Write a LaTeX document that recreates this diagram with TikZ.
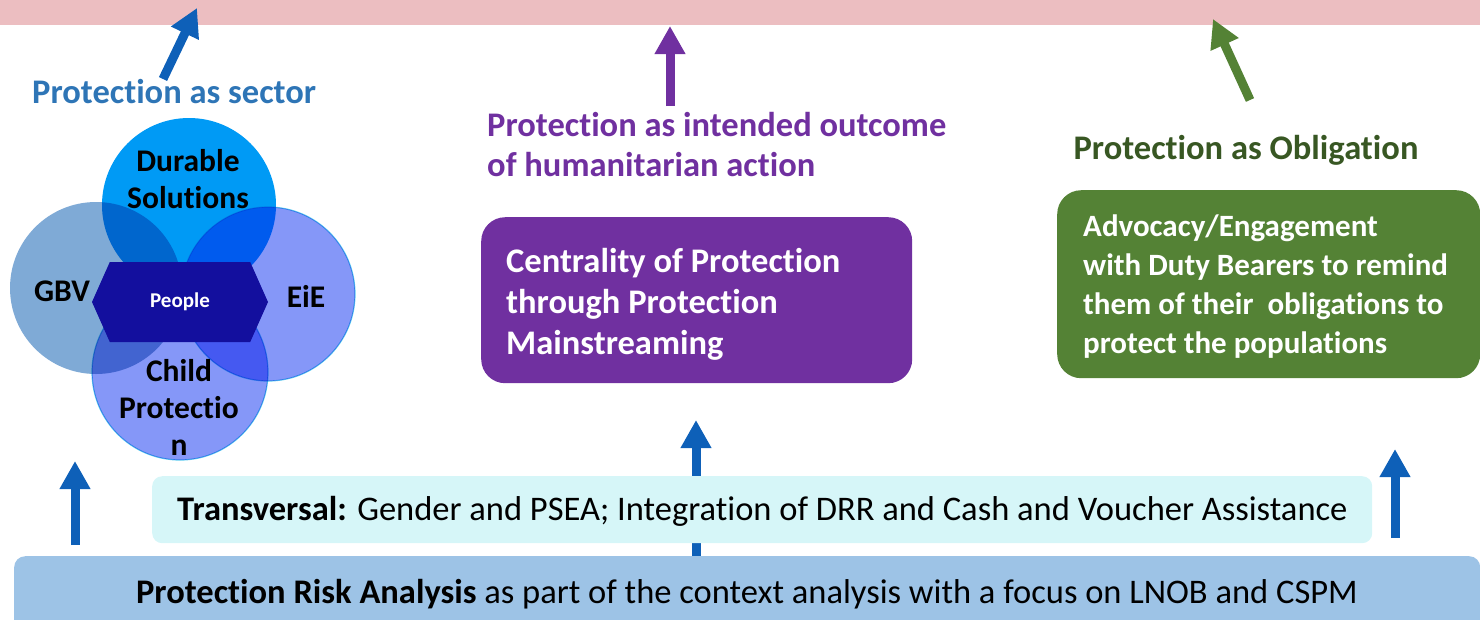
\documentclass[tikz,border=0pt]{standalone}
\usepackage{fontspec}
\setmainfont{Carlito}[Ligatures=NoCommon]
\usetikzlibrary{arrows.meta,shapes.symbols}

\definecolor{bandpink}{HTML}{ECBEC1}
\definecolor{arrowblue}{HTML}{0E60B8}
\definecolor{sectorblue}{HTML}{2E75B6}
\definecolor{mainpurple}{HTML}{7030A0}
\definecolor{arrowgreen}{HTML}{548235}
\definecolor{labelgreen}{HTML}{385723}
\definecolor{boxgreen}{HTML}{548235}
\definecolor{transcyan}{HTML}{D6F6F8}
\definecolor{riskblue}{HTML}{9DC3E6}
\definecolor{durablefill}{HTML}{009AF5}
\definecolor{gbvfill}{HTML}{7FAAD6}
\definecolor{eiefill}{HTML}{8597F8}
\definecolor{childfill}{HTML}{8597F8}
\definecolor{peoplefill}{HTML}{130F9E}
\definecolor{ringedge}{HTML}{5CCBEF}

\tikzset{
  upArrow/.style={line width=9pt, -{Triangle[width=29pt,length=28pt]}},
  ring/.style={circle, minimum size=#1, inner sep=0pt, blend mode=multiply},
  ringLabel/.style={font=\fontsize{31.5}{37}\selectfont\bfseries, text=black,
    align=center, inner sep=0pt},
  headLabel/.style={font=\fontsize{34.5}{40}\selectfont\bfseries, inner sep=0pt},
  boxText/.style={font=\fontsize{34.5}{41}\selectfont\bfseries, text=white,
    align=left, inner sep=0pt},
  panel/.style={inner sep=0pt, draw=none},
}

\begin{document}
\begin{tikzpicture}[x=1pt,y=-1pt]
\useasboundingbox (0,0) rectangle (1480,619);

% title band along the top edge
\node[panel, fill=bandpink, minimum width=1480pt, minimum height=25pt,
  anchor=north west] (band) at (0,0) {};

% lower layers
\node[panel, fill=riskblue, rounded corners=11pt, minimum width=1466pt,
  minimum height=80pt, anchor=north west] (risk) at (14,556) {};

% arrow from the analysis layer to the mainstreaming box (partly hidden)
\coordinate (midTail) at (696,556);
\coordinate (midTip) at (696,420);
\draw[upArrow, arrowblue] (midTail) -- (midTip);

\node[panel, fill=transcyan, rounded corners=10pt, minimum width=1220pt,
  minimum height=67pt, anchor=north west] (trans) at (152,476) {};
\node[font=\fontsize{34.5}{40}\selectfont, inner sep=0pt, anchor=west]
  (transText) at (177,511) {\textbf{Transversal:} Gender and PSEA; Integration of DRR and Cash and Voucher Assistance};
\node[font=\fontsize{34.5}{40}\selectfont, inner sep=0pt]
  (riskText) at (747,594) {\textbf{Protection Risk Analysis} as part of the context analysis with a focus on LNOB and CSPM};

% side arrows rising from the analysis layer
\coordinate (leftTail) at (75,545);
\coordinate (leftTip) at (75,461);
\draw[upArrow, arrowblue] (leftTail) -- (leftTip);
\coordinate (rightTail) at (1395,538);
\coordinate (rightTip) at (1395,449);
\draw[upArrow, arrowblue] (rightTail) -- (rightTip);

% sector circles
\node[ring=172pt, fill=gbvfill] (gbv) at (96,288) {};
\node[ring=174pt, fill=durablefill] (durable) at (189,205) {};
\node[ring=174pt, fill=eiefill, draw=ringedge, line width=1.2pt] (eie) at (268,294) {};
\node[ring=176pt, fill=childfill, draw=ringedge, line width=1.2pt] (child) at (180,372) {};

\node[panel, fill=peoplefill, shape=signal, signal to=east and west,
  signal pointer angle=132, minimum width=176pt, minimum height=80pt,
  font=\fontsize{21}{24}\selectfont\bfseries, text=white] (people) at (180,302) {People};

\node[ringLabel] (durableText) at (188,179) {Durable\\Solutions};
\node[ringLabel] (gbvText) at (62,291) {GBV};
\node[ringLabel] (eieText) at (306,296) {EiE};
\node[ringLabel] (childText) at (179,407) {Child\\Protectio\\n};

% headings with their arrows into the band
\node[headLabel, text=sectorblue, anchor=west] (sector) at (32,92) {Protection as sector};
\coordinate (sectorTail) at (163,79);
\coordinate (sectorTip) at (197,8);
\draw[upArrow, arrowblue] (sectorTail) -- (sectorTip);

\node[headLabel, text=mainpurple, anchor=west, align=left] (outcome) at (487,145)
  {Protection as intended outcome\\of humanitarian action};
\coordinate (outcomeTail) at (670,106);
\coordinate (outcomeTip) at (670,26);
\draw[upArrow, mainpurple] (outcomeTail) -- (outcomeTip);

\node[headLabel, text=labelgreen] (obligation) at (1246,150) {Protection as Obligation};
\coordinate (obligationTail) at (1250,100);
\coordinate (obligationTip) at (1213,19);
\draw[upArrow, arrowgreen] (obligationTail) -- (obligationTip);

% action boxes
\node[panel, fill=mainpurple, rounded corners=24pt, minimum width=431pt,
  minimum height=166pt, anchor=north west] (mainstream) at (481,217) {};
\node[boxText, anchor=west] (mainstreamText) at ([xshift=25pt,yshift=-4.5pt]mainstream.west)
  {Centrality of Protection\\through Protection\\Mainstreaming};

\node[panel, fill=boxgreen, rounded corners=24pt, minimum width=423pt,
  minimum height=188pt, anchor=north west] (duty) at (1057,190) {};
\node[boxText, font=\fontsize{31}{39}\selectfont\bfseries, anchor=west]
  (dutyText) at ([xshift=26pt,yshift=-2.5pt]duty.west)
  {Advocacy/Engagement\\with Duty Bearers to remind\\them of their\ \ obligations to\\protect the populations};
\end{tikzpicture}
\end{document}
